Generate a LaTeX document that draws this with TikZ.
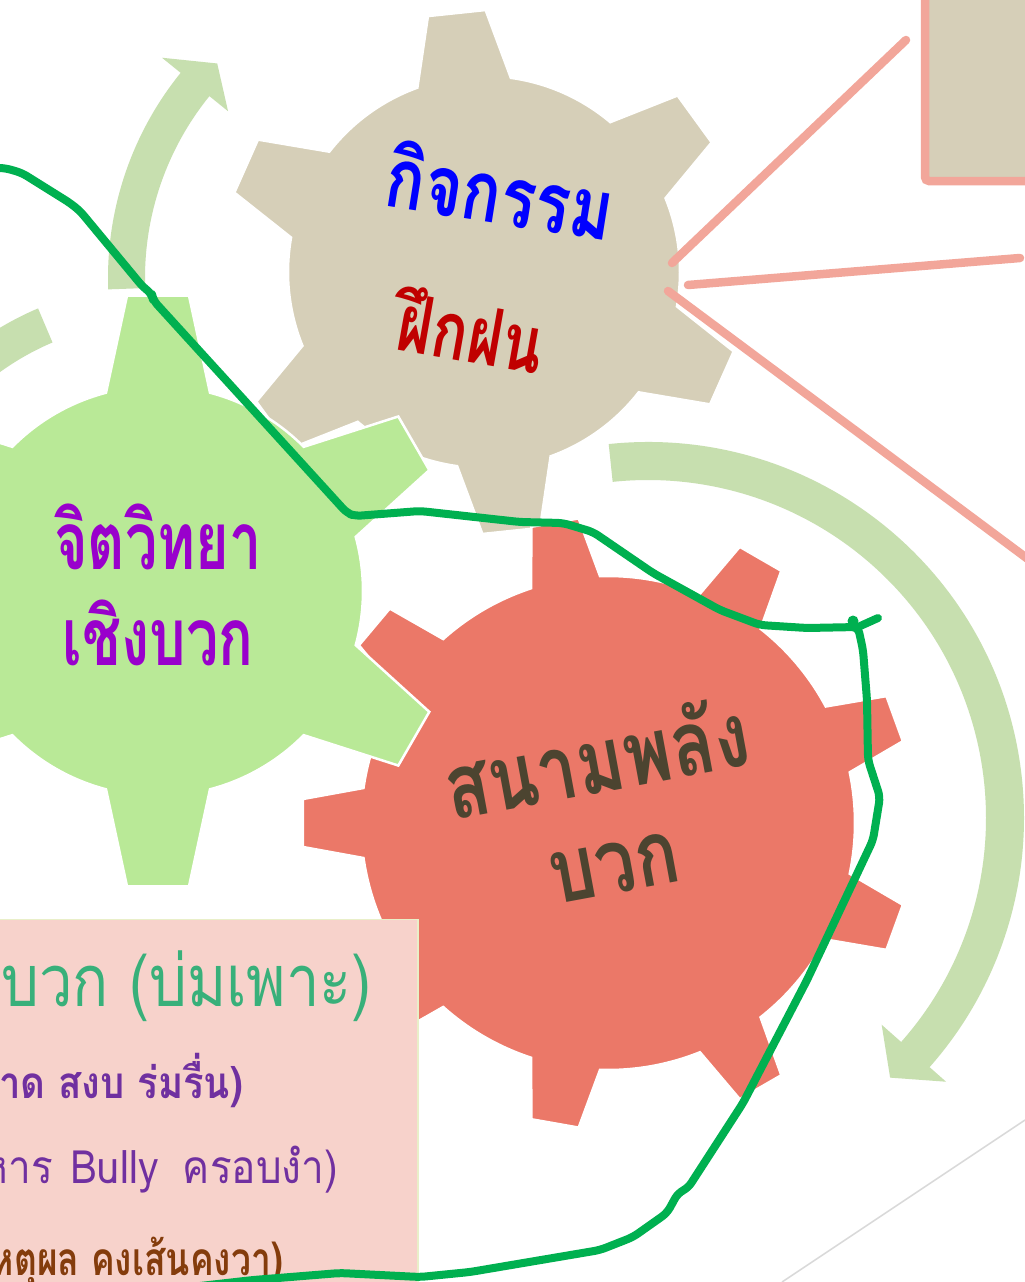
\documentclass[tikz,border=0pt]{standalone}
\usepackage{fontspec}
\newfontfamily\thaifont[Script=Thai]{Loma}
\definecolor{gbeige}{HTML}{D6CFB8}
\definecolor{ggreen}{HTML}{B9E997}
\definecolor{gred}{HTML}{EB7868}
\definecolor{arrowgreen}{HTML}{C7DFAF}
\definecolor{linkpink}{HTML}{F2A69A}
\definecolor{pathgreen}{HTML}{00B050}
\definecolor{boxpink}{HTML}{F7D2CB}
\definecolor{boxedge}{HTML}{E9EFC9}
\definecolor{tpurple}{HTML}{9900CC}
\definecolor{tdark}{HTML}{4C4430}
\definecolor{tred}{HTML}{C00000}
\definecolor{tgreen}{HTML}{38B07A}
\definecolor{tviolet}{HTML}{7030A0}
\definecolor{tbrown}{HTML}{843C0C}
\definecolor{thinline}{HTML}{D9D9D9}
\newcommand\drawgear[8][]{%
 \pgfmathsetmacro\gearB{asin(#7/#4)}%
 \pgfmathsetmacro\gearT{asin(#6/#5)}%
 \pgfmathsetmacro\gearS{360/#3}%
 \begin{scope}[shift={(#2)}]
 \path[#1] ({#8-\gearB}:#4pt) \foreach \k in {1,...,#3}{ -- ({#8+(\k-1)*\gearS-\gearT}:#5pt) -- ({#8+(\k-1)*\gearS+\gearT}:#5pt) -- ({#8+(\k-1)*\gearS+\gearB}:#4pt) arc[start angle={#8+(\k-1)*\gearS+\gearB}, end angle={#8+\k*\gearS-\gearB}, radius=#4pt] } -- cycle;
 \end{scope}}
\begin{document}
\begin{tikzpicture}[x=1pt,y=1pt,
  geartext/.style={font=\thaifont\bfseries\fontsize{#1}{#1}\selectfont, inner sep=0pt},
  geartext/.default=80,
  boxtext/.style={anchor=east, inner sep=0pt},
  link/.style={draw=linkpink, line width=8.5pt, line cap=round},
  arrowband/.style={fill=arrowgreen},
  gearedge/.style={draw=white, line width=2.5pt}]
\useasboundingbox (0,0) rectangle (1025,-1282);
\fill[white] (0,0) rectangle (1025,-1282);
% curved arrows
\begin{scope}[shift={(434,-278)}]
 \fill[arrowband] (182:326pt) arc[start angle=182,end angle=141,radius=326pt] -- (141:350pt) -- (135.3:305pt) -- (141:265pt) -- (141:289pt) arc[start angle=141,end angle=182,radius=289pt] -- cycle;
\end{scope}
\begin{scope}[shift={(648,-818)}]
 \fill[arrowband] (96:376pt) arc[start angle=96,end angle=-41.5,radius=376pt] -- (-41.5:398pt) -- (-47:355pt) -- (-41.5:312pt) -- (-41.5:338pt) arc[start angle=-41.5,end angle=96,radius=338pt] -- cycle;
\end{scope}
\begin{scope}[shift={(158,-591)}]
 \fill[arrowband] (113:307pt) arc[start angle=113,end angle=140,radius=307pt] -- (140:270pt) arc[start angle=140,end angle=113,radius=270pt] -- cycle;
\end{scope}
% gears
\drawgear[fill=gbeige, gearedge]{484,-272}{6}{196}{262}{29}{47}{36}
\drawgear[fill=gred, gearedge]{608,-823}{9}{247}{306}{24}{35}{20}
\drawgear[fill=ggreen, gearedge]{158,-591}{6}{205}{297}{31}{52}{30}
% links to the boxes on the right
\coordinate (l1a) at (672,-263); \coordinate (l1b) at (906,-40);
\coordinate (l2a) at (688,-285); \coordinate (l2b) at (1020,-258);
\coordinate (l3a) at (668,-291); \coordinate (l3b) at (1040,-568);
\draw[link] (l1a) -- (l1b);
\draw[link] (l2a) -- (l2b);
\draw[link] (l3a) -- (l3b);
\draw[fill=gbeige, draw=linkpink, line width=8.5pt, rounded corners=4pt] (925,20) rectangle (1060,-181);
% gear labels
\node[geartext=84, text=blue, rotate=-9, xscale=0.77] (act) at (501,-190) {กิจกรรม};
\node[geartext=80, text=tred, rotate=-10, xscale=0.74] (prac) at (472,-330) {ฝึกฝน};
\node[geartext=80, text=tpurple, xscale=0.72] (psy) at (158,-537) {จิตวิทยา};
\node[geartext=80, text=tpurple, xscale=0.72] (pos) at (158,-633) {เชิงบวก};
\node[geartext=90, text=tdark, rotate=10.5, xscale=0.8] (field) at (596,-757) {สนามพลัง};
\node[geartext=90, text=tdark, rotate=10.5, xscale=0.8] (plus) at (615,-868) {บวก};
% box bottom left
\draw[fill=boxpink, draw=boxedge, line width=1.5pt] (-10,-919.5) rectangle (418,-1300);
\node[boxtext, text=tgreen, font=\thaifont\fontsize{72}{80}\selectfont, xscale=0.83] (b1) at (372,-985) {สนามพลังบวก (บ่มเพาะ)};
\node[boxtext, text=tviolet, font=\thaifont\bfseries\fontsize{44}{50}\selectfont, xscale=0.87] (b2) at (243,-1080) {(สะอาด สงบ ร่มรื่น)};
\node[boxtext, text=tviolet, font=\thaifont\fontsize{46}{50}\selectfont, xscale=0.88] (b3) at (338,-1170) {หาร\hspace{20pt}Bully\hspace{28pt}ครอบงำ)};
\node[boxtext, text=tbrown, font=\thaifont\bfseries\fontsize{46}{50}\selectfont, xscale=0.77] (b4) at (283,-1262) {(มีเหตุผล คงเส้นคงวา)};
% thin grey line
\coordinate (g1) at (782,-1282); \coordinate (g2) at (1025,-1120);
\draw[thinline, line width=1.5pt] (g1) -- (g2);
% green hand-drawn line
\draw[pathgreen, line width=8pt, line cap=round, line join=round, rounded corners=6pt] (0,-168) -- (5,-168) -- (22,-173) -- (70,-203) -- (80,-211) -- (143,-287) -- (152,-294) -- (153,-300) -- (347,-513) -- (355,-516) -- (420,-511) -- (520,-522) -- (563,-523) -- (593,-532) -- (653,-573) -- (720,-610) -- (760,-625) -- (807,-628) -- (858,-627) -- (863,-650) -- (867,-700) -- (868,-760) -- (880,-797) -- (873,-840) -- (807,-980) -- (743,-1103) -- (688,-1188) -- (678,-1193) -- (667,-1213) -- (633,-1237) -- (600,-1250) -- (470,-1272) -- (420,-1277) -- (340,-1273) -- (253,-1280) -- (200,-1286);
\draw[pathgreen, line width=8pt, line cap=round] (858,-627) -- (878,-618);
\fill[pathgreen] (853,-621) circle[radius=5.5pt];
\end{tikzpicture}
\end{document}
